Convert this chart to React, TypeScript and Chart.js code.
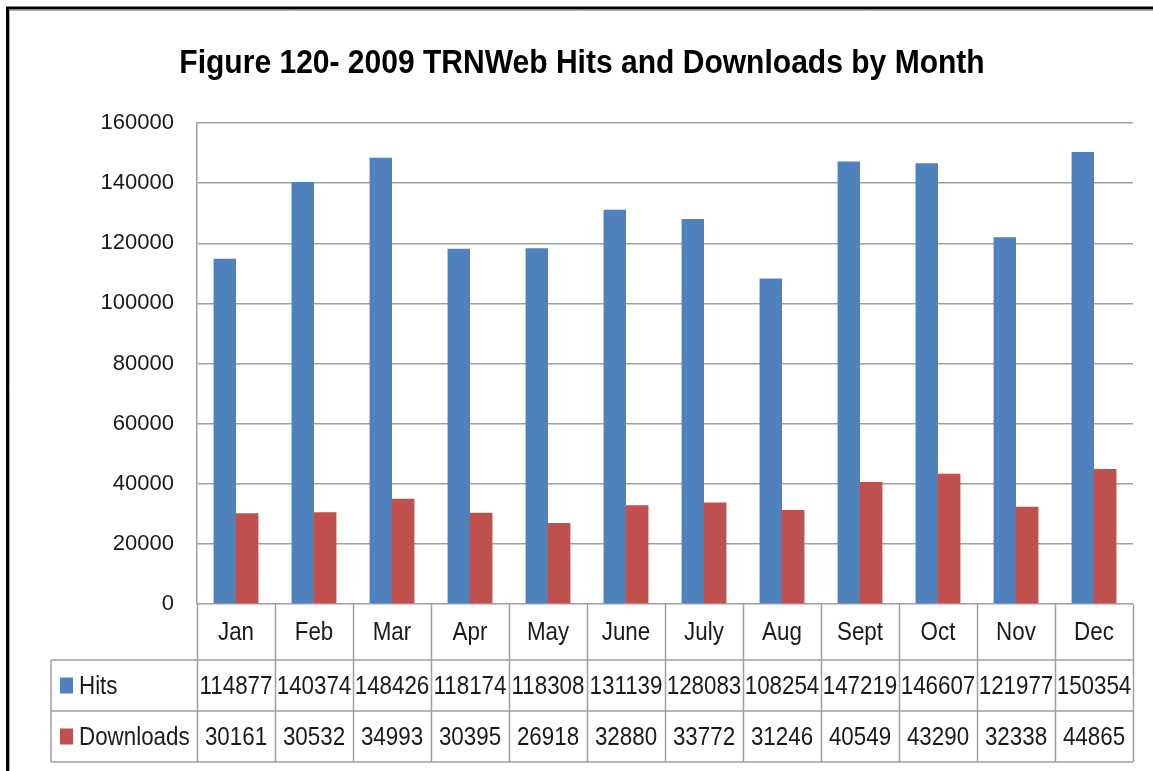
import React, { useEffect, useRef } from "react";
import { Chart, registerables } from "chart.js";

Chart.register(...registerables);

const TITLE = "Figure 120- 2009 TRNWeb Hits and Downloads by Month";
const MONTHS = ["Jan", "Feb", "Mar", "Apr", "May", "June", "July", "Aug", "Sept", "Oct", "Nov", "Dec"];
const HITS = [114877, 140374, 148426, 118174, 118308, 131139, 128083, 108254, 147219, 146607, 121977, 150354];
const DOWNLOADS = [30161, 30532, 34993, 30395, 26918, 32880, 33772, 31246, 40549, 43290, 32338, 44865];
const SERIES_NAMES = ["Hits", "Downloads"];
const COLORS = ["#4F81BD", "#C0504D"];
const Y_MIN = 0;
const Y_MAX = 160000;
const Y_STEP = 20000;

const FONT = "'Liberation Sans', Arial, sans-serif";
const GRID = "#A0A0A0";

function narrowText(ctx: CanvasRenderingContext2D, text: string, x: number, y: number, sx: number) {
  ctx.save();
  ctx.translate(x, y);
  ctx.scale(sx, 1);
  ctx.fillText(text, 0, 0);
  ctx.restore();
}

const tablePlugin = {
  id: "tablePlugin",
  afterDraw(chart: any) {
    const ctx = chart.ctx as CanvasRenderingContext2D;
    const area = chart.chartArea;
    const xs = chart.scales.x;
    const n = MONTHS.length;
    const cw = (area.right - area.left) / n;
    const r0 = area.bottom;
    const r1 = r0 + 56;
    const r2 = r1 + 51;
    const r3 = r2 + 51;
    const tLeft = 51;
    ctx.save();
    // outer border
    ctx.strokeStyle = "#000";
    ctx.lineWidth = 3;
    ctx.strokeRect(7.5, 8, 1300, 900);
    ctx.strokeStyle = "#B0B0B0";
    ctx.lineWidth = 1;
    ctx.beginPath();
    ctx.moveTo(10, 10.5);
    ctx.lineTo(1153, 10.5);
    ctx.moveTo(9.5, 10);
    ctx.lineTo(9.5, 771);
    ctx.stroke();

    // title
    ctx.fillStyle = "#000";
    ctx.font = `bold 33px ${FONT}`;
    ctx.textAlign = "center";
    ctx.textBaseline = "alphabetic";
    narrowText(ctx, TITLE, 582, 73, 0.91);

    // table lines
    ctx.strokeStyle = GRID;
    ctx.lineWidth = 1.5;
    ctx.beginPath();
    for (let i = 0; i <= n; i++) {
      const x = Math.round(area.left + i * cw) + 0.5;
      ctx.moveTo(x, r0);
      ctx.lineTo(x, r3);
    }
    ctx.moveTo(tLeft, r1);
    ctx.lineTo(tLeft, r3);
    ctx.moveTo(tLeft, r1);
    ctx.lineTo(area.right, r1);
    ctx.moveTo(tLeft, r2);
    ctx.lineTo(area.right, r2);
    ctx.moveTo(tLeft, r3);
    ctx.lineTo(area.right, r3);
    ctx.stroke();

    // text
    ctx.fillStyle = "#1a1a1a";
    ctx.font = `26px ${FONT}`;
    ctx.textAlign = "center";
    ctx.textBaseline = "middle";
    const rows = [HITS, DOWNLOADS];
    const sx = 0.86;
    for (let i = 0; i < n; i++) {
      const cx = xs.getPixelForValue(i);
      narrowText(ctx, MONTHS[i], cx, (r0 + r1) / 2 + 1, sx);
      narrowText(ctx, String(rows[0][i]), cx, (r1 + r2) / 2 + 1, sx);
      narrowText(ctx, String(rows[1][i]), cx, (r2 + r3) / 2 + 1, sx);
    }
    const rowMids = [(r1 + r2) / 2, (r2 + r3) / 2];
    ctx.textAlign = "left";
    for (let s = 0; s < 2; s++) {
      ctx.fillStyle = COLORS[s];
      ctx.fillRect(60, rowMids[s] - 8, 13, 16);
      ctx.fillStyle = "#1a1a1a";
      narrowText(ctx, SERIES_NAMES[s], 79, rowMids[s] + 1, sx);
    }
    ctx.restore();
  },
};

export default function App() {
  const ref = useRef<HTMLCanvasElement | null>(null);
  useEffect(() => {
    document.body.style.margin = "0";
    const canvas = ref.current!;
    const chart = new Chart(canvas, {
      type: "bar",
      data: {
        labels: MONTHS,
        datasets: [
          { label: SERIES_NAMES[0], data: HITS, backgroundColor: COLORS[0] },
          { label: SERIES_NAMES[1], data: DOWNLOADS, backgroundColor: COLORS[1] },
        ],
      },
      options: {
        animation: false,
        responsive: false,
        maintainAspectRatio: false,
        layout: { padding: { left: 0, right: 20, top: 123, bottom: 167 } },
        datasets: { bar: { barPercentage: 1, categoryPercentage: 0.575 } },
        plugins: { legend: { display: false }, title: { display: false }, tooltip: { enabled: false } },
        scales: {
          x: { display: false },
          y: {
            min: Y_MIN,
            max: Y_MAX,
            afterFit(scale: any) {
              scale.width = 197;
            },
            ticks: {
              stepSize: Y_STEP,
              padding: 23,
              color: "#1a1a1a",
              font: { family: FONT, size: 22 },
              callback: (v: any) => String(v),
            },
            grid: { color: GRID, lineWidth: 1.5, drawTicks: false },
            border: { display: true, color: GRID, width: 1.5 },
          },
        },
      },
      plugins: [tablePlugin],
    });
    return () => chart.destroy();
  }, []);
  return <canvas ref={ref} width={1153} height={771} style={{ display: "block" }} />;
}
